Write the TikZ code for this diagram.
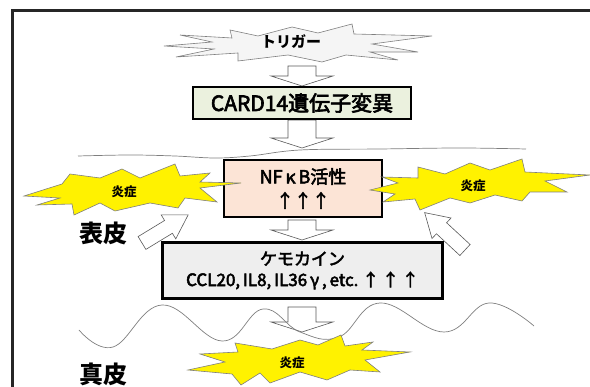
\documentclass[tikz,border=0pt]{standalone}
\usepackage{fontspec}
\setmainfont{Noto Sans CJK JP}
\newfontfamily\jpmed[FakeBold=3]{Noto Sans CJK JP}
\usetikzlibrary{calc}
\definecolor{cardgreen}{HTML}{EBF1DE}
\definecolor{peach}{HTML}{FCE4D6}
\definecolor{chemogray}{HTML}{EEEEEE}
\definecolor{lineGray}{HTML}{7F7F7F}
\tikzset{
  frameline/.style={line width=2.2pt, black!85},
  boxnode/.style={draw=black, line width=2.2pt, inner sep=0pt, align=center},
  burstY/.style={fill=yellow, draw=lineGray, line width=0.6pt, line join=miter},
  burstG/.style={fill=gray!8, draw=lineGray, line width=0.6pt},
  hollow/.style={fill=white, draw=black!65, line width=0.6pt},
  waveline/.style={draw=lineGray, line width=0.7pt},
  layerlabel/.style={font=\bfseries\fontsize{24}{24}\selectfont, inner sep=0pt},
  inflab/.style={font=\bfseries\fontsize{12.5}{12.5}\selectfont, inner sep=0pt},
}
\newcommand{\blockdown}[2]{\draw[hollow] let \p1=(#1), \p2=(#2) in
  (\x2-14pt,\y1) -- (\x2+14pt,\y1) -- (\x2+14pt,\y2+10pt) -- (\x2+31pt,\y2+10pt)
  -- (\x2,\y2) -- (\x2-31pt,\y2+10pt) -- (\x2-14pt,\y2+10pt) -- cycle;}
% tail point, angle, length
\newcommand{\slantarrow}[3]{\begin{scope}[shift={(#1)}, rotate=#2]
  \draw[hollow] (0,-7.5) -- (#3-23,-7.5) -- (#3-23,-14) -- (#3,0) -- (#3-23,14)
  -- (#3-23,7.5) -- (0,7.5) -- cycle;\end{scope}}
\begin{document}
\begin{tikzpicture}[x=1pt,y=-1pt]
\useasboundingbox (0,0) rectangle (590,387);
% frame
\draw[frameline] (12.5,392) -- (12.5,10.5) -- (595,10.5);

% trigger burst
\draw[burstG] (230,30) -- (258,36) -- (292,27) -- (318,33) -- (352,24) -- (354,34)
  -- (432,36) -- (372,44) -- (418,52) -- (370,52) -- (398,60) -- (346,55) -- (322,62)
  -- (288,55) -- (238,61) -- (238,53) -- (176,57) -- (214,49) -- (164,46) -- (212,42)
  -- (180,35) -- (232,38) -- cycle;
\node[font=\bfseries\fontsize{15}{15}\selectfont, inner sep=0pt] (trig) at (291,42) {トリガー};

% arrow coordinates
\coordinate (a1s) at (302,66);  \coordinate (a1e) at (302,86);
\coordinate (a2s) at (302,120); \coordinate (a2e) at (302,148);
\coordinate (a3s) at (302,220); \coordinate (a3e) at (302,240);
\coordinate (a4s) at (302,307); \coordinate (a4e) at (302,332);

\blockdown{a1s}{a1e}
\blockdown{a2s}{a2e}
\blockdown{a3s}{a3e}
\blockdown{a4s}{a4e}

% boxes
\node[boxnode, fill=cardgreen, minimum width=218pt, minimum height=32pt,
  font=\jpmed\fontsize{21}{21}\selectfont] (card) at (302,103) {CARD14遺伝子変異};
\node[boxnode, fill=peach, minimum width=158pt, minimum height=57pt,
  font=\jpmed\fontsize{18}{24}\selectfont] (nfkb) at (303,188.5) {NF\,κ\,B活性\\↑↑↑};
\node[boxnode, fill=chemogray, minimum width=280pt, minimum height=56pt,
  font=\jpmed\fontsize{17}{21}\selectfont] (chemo) at (302.5,270.5)
  {ケモカイン\\CCL20,\,IL8,\,IL36\,γ\,,\,etc.\ ↑\,↑\,↑};

% wavy lines
\draw[waveline] plot[smooth, tension=0.6] coordinates {(78,156) (130,155) (175,156)
  (215,158) (250,156) (300,150) (380,149) (460,148) (526,149)};
\draw[waveline] plot[smooth, tension=0.7] coordinates {(79,330) (113,347) (162,305)
  (222,341) (263,309) (300,332) (339,337) (380,303) (444,332) (489,303) (534,326)};

% left burst
\draw[burstY] (24,196) -- (62,184) -- (70,174) -- (100,178) -- (122,169) -- (140,178)
  -- (175,164) -- (180,176) -- (210,173) -- (200,182) -- (241,183) -- (200,188)
  -- (217,202) -- (185,198) -- (178,208) -- (150,203) -- (115,211) -- (100,203)
  -- (74,215) -- (72,204) -- (37,205) -- (60,198) -- cycle;
\node[inflab] (infl) at (124,192) {炎症};

% right burst
\draw[burstY] (370,190) -- (398,183) -- (382,177) -- (418,178) -- (418,167) -- (445,174)
  -- (470,163) -- (490,170) -- (522,159) -- (525,172) -- (590,175) -- (545,181)
  -- (567,192) -- (530,192) -- (522,201) -- (495,195) -- (470,203) -- (450,198)
  -- (420,210) -- (415,199) -- (383,202) -- (395,194) -- cycle;
\node[inflab] (infr) at (473,186) {炎症};

% bottom burst
\draw[burstY] (188,370) -- (225,362) -- (200,354) -- (238,352) -- (235,343) -- (272,349)
  -- (300,340) -- (318,345) -- (341,335) -- (345,346) -- (373,342) -- (362,350)
  -- (410,352) -- (365,360) -- (380,372) -- (350,370) -- (327,380) -- (300,372)
  -- (270,383) -- (260,373) -- (241,385) -- (232,374) -- cycle;
\node[inflab] (infb) at (292,363) {炎症};

% slanted hollow arrows (pointing to the bursts)
\slantarrow{142,243}{31.3}{54}
\slantarrow{465,250}{137.2}{55}

% layer labels
\node[layerlabel] (epi) at (103,233) {表皮};
\node[layerlabel] (derm) at (103,374) {真皮};
\end{tikzpicture}
\end{document}
